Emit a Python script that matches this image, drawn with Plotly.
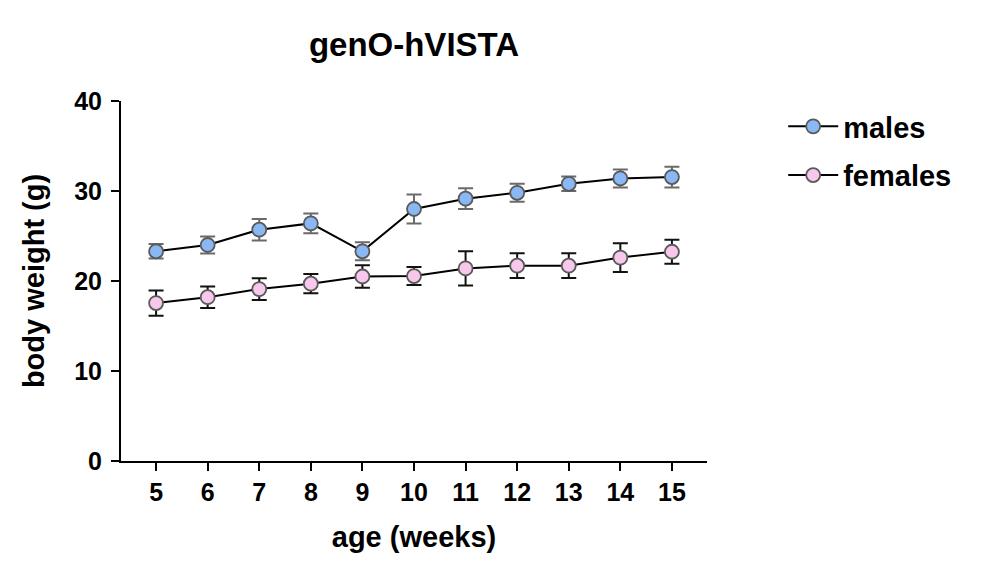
import plotly.graph_objects as go

weeks = [5, 6, 7, 8, 9, 10, 11, 12, 13, 14, 15]
males_mean = [23.3, 24.0, 25.7, 26.4, 23.3, 28.0, 29.15, 29.8, 30.8, 31.4, 31.55]
males_err = [0.8, 0.95, 1.2, 1.1, 1.0, 1.6, 1.15, 1.0, 0.8, 1.0, 1.15]
females_mean = [17.55, 18.2, 19.1, 19.7, 20.5, 20.55, 21.4, 21.7, 21.7, 22.6, 23.25]
females_err = [1.4, 1.2, 1.2, 1.07, 1.26, 1.0, 1.9, 1.37, 1.37, 1.6, 1.33]
y_ticks = [0, 10, 20, 30, 40]

FONT = "Liberation Sans, Arial, sans-serif"

fig = go.Figure()
fig.add_trace(go.Scatter(
    x=weeks, y=males_mean, name="<b>males</b>", mode="lines+markers",
    legendgroup="m",
    line=dict(color="black", width=2),
    marker=dict(size=14, color="#8ab8f5", line=dict(color="#5a5a5a", width=1.8)),
    error_y=dict(type="data", array=males_err, visible=True,
                 color="#6a6a6a", thickness=2, width=7.5),
))
fig.add_trace(go.Scatter(
    x=weeks, y=females_mean, name="<b>females</b>", mode="lines+markers",
    legendgroup="f",
    line=dict(color="black", width=2),
    marker=dict(size=14, color="#f8c8ec", line=dict(color="#5a5a5a", width=1.8)),
    error_y=dict(type="data", array=females_err, visible=True,
                 color="#111111", thickness=2, width=7.5),
))

W, H = 974, 574
fig.update_layout(
    width=W, height=H,
    paper_bgcolor="white", plot_bgcolor="white",
    margin=dict(l=113, r=275, t=93, b=121, autoexpand=False),
    font=dict(family=FONT, color="black"),
    title=dict(text="<b>genO-hVISTA</b>", x=(113 + 293) / W, xanchor="center",
               y=1 - 36 / H, yanchor="middle", font=dict(size=33, family=FONT)),
    legend=dict(x=1.13, y=1.0, xanchor="left", yanchor="top",
                font=dict(size=29, family=FONT), tracegroupgap=8,
                itemwidth=50, bgcolor="rgba(0,0,0,0)"),
    xaxis=dict(
        range=[4.32, 15.68], tickvals=weeks, ticktext=[f"<b>{w}</b>" for w in weeks],
        showline=True, linecolor="black", linewidth=2, showgrid=False, zeroline=False,
        ticks="outside", ticklen=8, tickwidth=2, tickcolor="black",
        tickfont=dict(size=25, family=FONT),
        title=dict(text="<b>age (weeks)</b>", font=dict(size=29, family=FONT), standoff=22),
    ),
    yaxis=dict(
        range=[0, 40], tickvals=y_ticks, ticktext=[f"<b>{v}</b>" for v in y_ticks],
        showline=True, linecolor="black", linewidth=2, showgrid=False, zeroline=False,
        ticks="outside", ticklen=8, tickwidth=2, tickcolor="black",
        ticklabelstandoff=4,
        tickfont=dict(size=25, family=FONT),
        title=dict(text="<b>body weight (g)</b>", font=dict(size=29, family=FONT), standoff=21),
    ),
)

fig.write_html("out.html")
